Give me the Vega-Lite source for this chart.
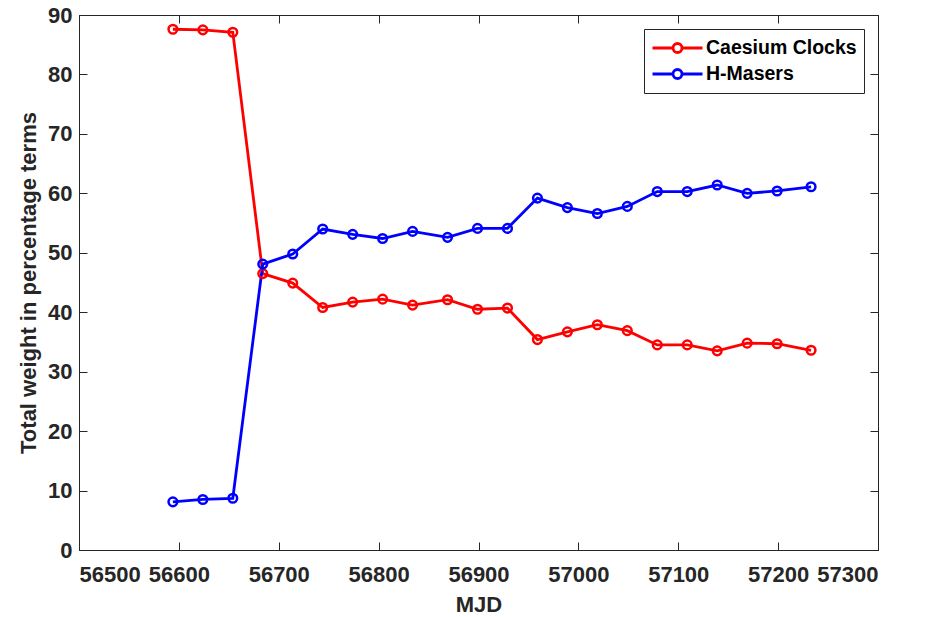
{
  "$schema": "https://vega.github.io/schema/vega-lite/v6.json",
  "width": 799,
  "height": 535,
  "autosize": {"type": "none"},
  "padding": {"left": 79, "top": 15, "right": 48, "bottom": 67},
  "background": "white",
  "config": {
    "font": "Liberation Sans",
    "view": {"stroke": "#262626", "strokeWidth": 1},
    "axis": {
      "grid": false,
      "domainColor": "#262626",
      "tickColor": "#262626",
      "tickSize": -8,
      "labelFont": "Liberation Sans",
      "labelFontWeight": "bold",
      "labelFontSize": 22,
      "labelColor": "#262626",
      "titleFont": "Liberation Sans",
      "titleFontWeight": "bold",
      "titleFontSize": 22,
      "titleColor": "#262626"
    }
  },
  "data": {
    "values": [
      {"mjd": 56594, "series": "Caesium Clocks", "w": 87.6},
      {"mjd": 56624, "series": "Caesium Clocks", "w": 87.5},
      {"mjd": 56654, "series": "Caesium Clocks", "w": 87.1},
      {"mjd": 56684, "series": "Caesium Clocks", "w": 46.5},
      {"mjd": 56714, "series": "Caesium Clocks", "w": 44.9},
      {"mjd": 56744, "series": "Caesium Clocks", "w": 40.8},
      {"mjd": 56774, "series": "Caesium Clocks", "w": 41.7},
      {"mjd": 56804, "series": "Caesium Clocks", "w": 42.2},
      {"mjd": 56834, "series": "Caesium Clocks", "w": 41.2},
      {"mjd": 56869, "series": "Caesium Clocks", "w": 42.1},
      {"mjd": 56899, "series": "Caesium Clocks", "w": 40.5},
      {"mjd": 56929, "series": "Caesium Clocks", "w": 40.7},
      {"mjd": 56959, "series": "Caesium Clocks", "w": 35.4},
      {"mjd": 56989, "series": "Caesium Clocks", "w": 36.7},
      {"mjd": 57019, "series": "Caesium Clocks", "w": 37.9},
      {"mjd": 57049, "series": "Caesium Clocks", "w": 36.9},
      {"mjd": 57079, "series": "Caesium Clocks", "w": 34.5},
      {"mjd": 57109, "series": "Caesium Clocks", "w": 34.5},
      {"mjd": 57139, "series": "Caesium Clocks", "w": 33.5},
      {"mjd": 57169, "series": "Caesium Clocks", "w": 34.8},
      {"mjd": 57199, "series": "Caesium Clocks", "w": 34.7},
      {"mjd": 57233, "series": "Caesium Clocks", "w": 33.6},
      {"mjd": 56594, "series": "H-Masers", "w": 8.1},
      {"mjd": 56624, "series": "H-Masers", "w": 8.5},
      {"mjd": 56654, "series": "H-Masers", "w": 8.7},
      {"mjd": 56684, "series": "H-Masers", "w": 48.1},
      {"mjd": 56714, "series": "H-Masers", "w": 49.8},
      {"mjd": 56744, "series": "H-Masers", "w": 54.0},
      {"mjd": 56774, "series": "H-Masers", "w": 53.1},
      {"mjd": 56804, "series": "H-Masers", "w": 52.4},
      {"mjd": 56834, "series": "H-Masers", "w": 53.6},
      {"mjd": 56869, "series": "H-Masers", "w": 52.6},
      {"mjd": 56899, "series": "H-Masers", "w": 54.1},
      {"mjd": 56929, "series": "H-Masers", "w": 54.1},
      {"mjd": 56959, "series": "H-Masers", "w": 59.2},
      {"mjd": 56989, "series": "H-Masers", "w": 57.6},
      {"mjd": 57019, "series": "H-Masers", "w": 56.6},
      {"mjd": 57049, "series": "H-Masers", "w": 57.8},
      {"mjd": 57079, "series": "H-Masers", "w": 60.3},
      {"mjd": 57109, "series": "H-Masers", "w": 60.3},
      {"mjd": 57139, "series": "H-Masers", "w": 61.4},
      {"mjd": 57169, "series": "H-Masers", "w": 60.0},
      {"mjd": 57199, "series": "H-Masers", "w": 60.4},
      {"mjd": 57233, "series": "H-Masers", "w": 61.1}
    ]
  },
  "layer": [
    {
      "mark": {"type": "line", "strokeWidth": 2.8, "point": {"filled": false, "fill": "transparent", "size": 75, "strokeWidth": 2.5}},
      "encoding": {
        "x": {
          "field": "mjd", "type": "quantitative",
          "scale": {"domain": [56500, 57300], "nice": false, "zero": false},
          "axis": {"values": [56500, 56600, 56700, 56800, 56900, 57000, 57100, 57200, 57300], "format": "d", "title": "MJD", "labelPadding": 22, "titlePadding": 9}
        },
        "y": {
          "field": "w", "type": "quantitative",
          "scale": {"domain": [0, 90], "nice": false},
          "axis": {"values": [0, 10, 20, 30, 40, 50, 60, 70, 80, 90], "title": "Total weight in percentage terms", "labelPadding": 15, "titlePadding": 7}
        },
        "color": {
          "field": "series", "type": "nominal",
          "scale": {"domain": ["Caesium Clocks", "H-Masers"], "range": ["#ff0000", "#0000ff"]},
          "legend": {
            "title": null,
            "orient": "top-right",
            "offset": 14,
            "strokeColor": "#262626",
            "fillColor": "white",
            "padding": 7,
            "labelFont": "Liberation Sans",
            "labelFontWeight": "bold",
            "labelFontSize": 19.5,
            "labelColor": "#000000",
            "labelOffset": 2,
            "symbolType": "M-1,0L-0.18,0M0.18,0L1,0M-0.18,0A0.18,0.18,0,1,1,0.18,0A0.18,0.18,0,1,1,-0.18,0",
            "symbolSize": 2500,
            "symbolStrokeWidth": 2.8,
            "symbolFillColor": "transparent",
            "clipHeight": 24,
            "rowPadding": 2
          }
        }
      }
    },
    {
      "mark": {"type": "rule", "opacity": 0},
      "encoding": {
        "x": {"datum": 56500, "type": "quantitative", "scale": {"domain": [56500, 57300], "nice": false, "zero": false},
          "axis": {"orient": "top", "values": [56500, 56600, 56700, 56800, 56900, 57000, 57100, 57200, 57300], "labels": false, "title": null}},
        "y": {"datum": 0, "type": "quantitative", "scale": {"domain": [0, 90], "nice": false},
          "axis": {"orient": "right", "values": [0, 10, 20, 30, 40, 50, 60, 70, 80, 90], "labels": false, "title": null}}
      }
    }
  ],
  "resolve": {"axis": {"x": "independent", "y": "independent"}}
}
